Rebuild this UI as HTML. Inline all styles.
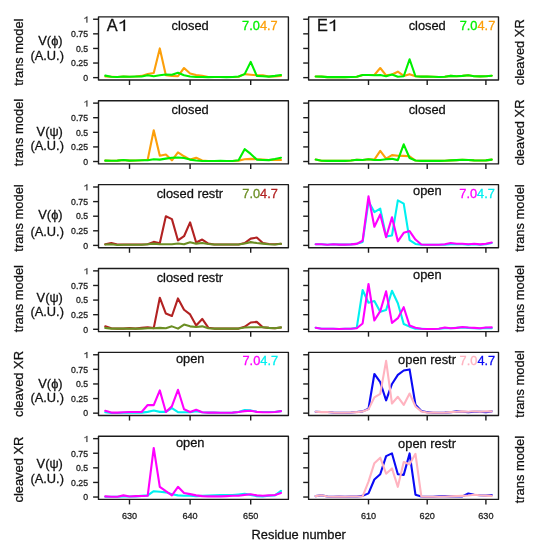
<!DOCTYPE html>
<html><head><meta charset="utf-8"><title>V(phi) V(psi) plots</title>
<style>
html,body{margin:0;padding:0;background:#fff;}
body{width:538px;height:550px;overflow:hidden;}
svg{display:block;font-family:"Liberation Sans", sans-serif;will-change:transform;}
text{stroke-width:0.28px;}
</style></head><body>
<svg width="538" height="550" viewBox="0 0 538 550">
<rect x="0" y="0" width="538" height="550" fill="#fff"/>
<polyline points="105.26,76.47 111.32,76.76 117.38,76.94 123.44,76.47 129.5,76.76 135.56,76.47 141.62,75.89 147.68,74.02 153.74,73.08 159.8,48.44 165.86,75.3 171.92,75.89 177.98,76.18 184.04,68 190.1,73.55 196.16,75.01 202.22,75.89 208.28,76.94 214.34,77.06 220.4,77.06 226.46,77.06 232.52,77.06 238.58,76.76 244.64,74.14 250.7,74.72 256.76,75.3 262.82,75.3 268.88,76.47 274.94,76.47 281,75.89" fill="none" stroke="#FC9F0A" stroke-width="2.1" stroke-linejoin="round" stroke-linecap="round"/>
<polyline points="105.26,75.6 111.32,76.76 117.38,76.94 123.44,76.47 129.5,76.76 135.56,76.47 141.62,76.47 147.68,75.3 153.74,76.18 159.8,75.3 165.86,74.43 171.92,74.72 177.98,72.68 184.04,75.3 190.1,76.47 196.16,76.94 202.22,77.06 208.28,77.17 214.34,77.06 220.4,77.06 226.46,77.17 232.52,77.06 238.58,76.47 244.64,74.14 250.7,61.87 256.76,75.89 262.82,76.18 268.88,76.59 274.94,75.89 281,75.01" fill="none" stroke="#00F000" stroke-width="2.1" stroke-linejoin="round" stroke-linecap="round"/>
<rect x="98.5" y="16.9" width="189.9" height="63.1" fill="none" stroke="#1c1c1c" stroke-width="1.4" stroke-linejoin="round"/>
<line x1="93.1" y1="77.64" x2="98.5" y2="77.64" stroke="#1c1c1c" stroke-width="1.4"/>
<line x1="93.1" y1="63.04" x2="98.5" y2="63.04" stroke="#1c1c1c" stroke-width="1.4"/>
<line x1="93.1" y1="48.44" x2="98.5" y2="48.44" stroke="#1c1c1c" stroke-width="1.4"/>
<line x1="93.1" y1="33.84" x2="98.5" y2="33.84" stroke="#1c1c1c" stroke-width="1.4"/>
<line x1="93.1" y1="19.24" x2="98.5" y2="19.24" stroke="#1c1c1c" stroke-width="1.4"/>
<line x1="129.5" y1="80" x2="129.5" y2="85" stroke="#1c1c1c" stroke-width="1.4"/>
<line x1="190.1" y1="80" x2="190.1" y2="85" stroke="#1c1c1c" stroke-width="1.4"/>
<line x1="250.7" y1="80" x2="250.7" y2="85" stroke="#1c1c1c" stroke-width="1.4"/>
<text x="171.6" y="29.5" font-size="12.85" fill="#111" stroke="#111">closed</text>
<text x="242.1" y="29.5" font-size="12.8"><tspan fill="#00F000" stroke="#00F000">7.0</tspan><tspan fill="#FC9F0A" stroke="#FC9F0A">4.7</tspan></text>
<text x="88.0" y="80.93" font-size="8.7" text-anchor="end" fill="#222" stroke="#222">0</text>
<text x="88.0" y="66.33" font-size="8.7" text-anchor="end" fill="#222" stroke="#222">0.25</text>
<text x="88.0" y="51.73" font-size="8.7" text-anchor="end" fill="#222" stroke="#222">0.5</text>
<text x="88.0" y="37.13" font-size="8.7" text-anchor="end" fill="#222" stroke="#222">0.75</text>
<path d="M0.354,0 L0.444,0 L0.444,-0.688 L0.384,-0.688 C0.355,-0.625 0.27,-0.56 0.12,-0.52 L0.12,-0.44 C0.22,-0.465 0.31,-0.51 0.354,-0.555 Z" transform="translate(83.44,22.53) scale(8.7)" fill="#222" stroke="#222" stroke-width="0.03"/>
<polyline points="315.67,76.47 321.54,76.65 327.41,77.17 333.28,77 339.15,77.17 345.02,77.17 350.89,77 356.76,76.82 362.63,74.95 368.5,74.95 374.37,74.95 380.24,68 386.11,75.3 391.98,74.43 397.85,71.68 403.72,75.89 409.59,74.14 415.46,76.24 421.33,76.65 427.2,76.65 433.07,76.82 438.94,77 444.81,76.82 450.68,75.89 456.55,76.24 462.42,75.89 468.29,75.3 474.16,76.24 480.03,76.41 485.9,76.24 491.77,75.71" fill="none" stroke="#FC9F0A" stroke-width="2.1" stroke-linejoin="round" stroke-linecap="round"/>
<polyline points="315.67,76.47 321.54,76.65 327.41,77.17 333.28,77 339.15,77.17 345.02,77.17 350.89,77 356.76,76.82 362.63,74.95 368.5,74.95 374.37,75.3 380.24,74.95 386.11,76.24 391.98,74.43 397.85,76.82 403.72,76.24 409.59,59.24 415.46,76.24 421.33,76.65 427.2,76.65 433.07,76.82 438.94,77 444.81,76.82 450.68,75.89 456.55,76.24 462.42,75.89 468.29,75.3 474.16,76.24 480.03,76.41 485.9,76.24 491.77,75.71" fill="none" stroke="#00F000" stroke-width="2.1" stroke-linejoin="round" stroke-linecap="round"/>
<rect x="308.6" y="16.9" width="189.9" height="63.1" fill="none" stroke="#1c1c1c" stroke-width="1.4" stroke-linejoin="round"/>
<line x1="303.2" y1="77.64" x2="308.6" y2="77.64" stroke="#1c1c1c" stroke-width="1.4"/>
<line x1="303.2" y1="63.04" x2="308.6" y2="63.04" stroke="#1c1c1c" stroke-width="1.4"/>
<line x1="303.2" y1="48.44" x2="308.6" y2="48.44" stroke="#1c1c1c" stroke-width="1.4"/>
<line x1="303.2" y1="33.84" x2="308.6" y2="33.84" stroke="#1c1c1c" stroke-width="1.4"/>
<line x1="303.2" y1="19.24" x2="308.6" y2="19.24" stroke="#1c1c1c" stroke-width="1.4"/>
<line x1="368.5" y1="80" x2="368.5" y2="85" stroke="#1c1c1c" stroke-width="1.4"/>
<line x1="427.2" y1="80" x2="427.2" y2="85" stroke="#1c1c1c" stroke-width="1.4"/>
<line x1="485.9" y1="80" x2="485.9" y2="85" stroke="#1c1c1c" stroke-width="1.4"/>
<text x="408.65" y="29.5" font-size="12.85" fill="#111" stroke="#111">closed</text>
<text x="459.7" y="29.5" font-size="12.8"><tspan fill="#00F000" stroke="#00F000">7.0</tspan><tspan fill="#FC9F0A" stroke="#FC9F0A">4.7</tspan></text>
<text transform="translate(22.6,52.2) rotate(-90)" font-size="12.9" text-anchor="middle" fill="#111" stroke="#111">trans model</text>
<text transform="translate(524.4,52.2) rotate(-90)" font-size="12.9" text-anchor="middle" fill="#111" stroke="#111">cleaved XR</text>
<text x="38.3" y="44.85" font-size="12.85" fill="#111" stroke="#111">V(ϕ)</text>
<text x="30.4" y="59.8" font-size="12.85" fill="#111" stroke="#111">(A.U.)</text>
<polyline points="105.26,160.64 111.32,160.82 117.38,160.64 123.44,159.94 129.5,160.64 135.56,160.47 141.62,160.24 147.68,159.77 153.74,130.28 159.8,155.68 165.86,154.51 171.92,160.35 177.98,152.29 184.04,156.26 190.1,159.59 196.16,157.72 202.22,160.53 208.28,160.94 214.34,160.94 220.4,160.94 226.46,160.94 232.52,160.94 238.58,160.64 244.64,159.18 250.7,158.89 256.76,159.18 262.82,159.59 268.88,160.06 274.94,159.59 281,159.94" fill="none" stroke="#FC9F0A" stroke-width="2.1" stroke-linejoin="round" stroke-linecap="round"/>
<polyline points="105.26,160.64 111.32,160.82 117.38,160.64 123.44,159.94 129.5,160.64 135.56,160.47 141.62,160.24 147.68,160.24 153.74,159.18 159.8,159.59 165.86,158.6 171.92,157.72 177.98,157.43 184.04,158.02 190.1,159.59 196.16,160.53 202.22,160.94 208.28,160.94 214.34,160.94 220.4,160.76 226.46,160.94 232.52,160.94 238.58,160.18 244.64,149.14 250.7,153.93 256.76,159.59 262.82,159.94 268.88,160.12 274.94,159.01 281,157.72" fill="none" stroke="#00F000" stroke-width="2.1" stroke-linejoin="round" stroke-linecap="round"/>
<rect x="98.5" y="100.78" width="189.9" height="63.1" fill="none" stroke="#1c1c1c" stroke-width="1.4" stroke-linejoin="round"/>
<line x1="93.1" y1="161.52" x2="98.5" y2="161.52" stroke="#1c1c1c" stroke-width="1.4"/>
<line x1="93.1" y1="146.92" x2="98.5" y2="146.92" stroke="#1c1c1c" stroke-width="1.4"/>
<line x1="93.1" y1="132.32" x2="98.5" y2="132.32" stroke="#1c1c1c" stroke-width="1.4"/>
<line x1="93.1" y1="117.72" x2="98.5" y2="117.72" stroke="#1c1c1c" stroke-width="1.4"/>
<line x1="93.1" y1="103.12" x2="98.5" y2="103.12" stroke="#1c1c1c" stroke-width="1.4"/>
<line x1="129.5" y1="163.88" x2="129.5" y2="168.88" stroke="#1c1c1c" stroke-width="1.4"/>
<line x1="190.1" y1="163.88" x2="190.1" y2="168.88" stroke="#1c1c1c" stroke-width="1.4"/>
<line x1="250.7" y1="163.88" x2="250.7" y2="168.88" stroke="#1c1c1c" stroke-width="1.4"/>
<text x="171.6" y="114.18" font-size="12.85" fill="#111" stroke="#111">closed</text>
<text x="88.0" y="164.81" font-size="8.7" text-anchor="end" fill="#222" stroke="#222">0</text>
<text x="88.0" y="150.21" font-size="8.7" text-anchor="end" fill="#222" stroke="#222">0.25</text>
<text x="88.0" y="135.61" font-size="8.7" text-anchor="end" fill="#222" stroke="#222">0.5</text>
<text x="88.0" y="121.01" font-size="8.7" text-anchor="end" fill="#222" stroke="#222">0.75</text>
<path d="M0.354,0 L0.444,0 L0.444,-0.688 L0.384,-0.688 C0.355,-0.625 0.27,-0.56 0.12,-0.52 L0.12,-0.44 C0.22,-0.465 0.31,-0.51 0.354,-0.555 Z" transform="translate(83.44,106.41) scale(8.7)" fill="#222" stroke="#222" stroke-width="0.03"/>
<polyline points="315.67,159.59 321.54,160.7 327.41,160.88 333.28,160.7 339.15,160.88 345.02,160.88 350.89,160.53 356.76,159.77 362.63,159.94 368.5,159.18 374.37,159.59 380.24,150.95 386.11,158.6 391.98,155.1 397.85,155.68 403.72,155.86 409.59,156.26 415.46,160.53 421.33,160.88 427.2,160.88 433.07,160.88 438.94,160.88 444.81,160.7 450.68,160.35 456.55,160.12 462.42,159.77 468.29,159.94 474.16,160.35 480.03,160.53 485.9,160.35 491.77,159.59" fill="none" stroke="#FC9F0A" stroke-width="2.1" stroke-linejoin="round" stroke-linecap="round"/>
<polyline points="315.67,159.59 321.54,160.7 327.41,160.88 333.28,160.7 339.15,160.88 345.02,160.88 350.89,160.53 356.76,159.77 362.63,159.94 368.5,159.18 374.37,159.94 380.24,159.94 386.11,159.18 391.98,158.83 397.85,160.12 403.72,144.29 409.59,158.02 415.46,160.53 421.33,160.88 427.2,160.88 433.07,160.88 438.94,160.88 444.81,160.7 450.68,160.35 456.55,160.12 462.42,159.77 468.29,159.94 474.16,160.35 480.03,160.53 485.9,160.35 491.77,159.59" fill="none" stroke="#00F000" stroke-width="2.1" stroke-linejoin="round" stroke-linecap="round"/>
<rect x="308.6" y="100.78" width="189.9" height="63.1" fill="none" stroke="#1c1c1c" stroke-width="1.4" stroke-linejoin="round"/>
<line x1="303.2" y1="161.52" x2="308.6" y2="161.52" stroke="#1c1c1c" stroke-width="1.4"/>
<line x1="303.2" y1="146.92" x2="308.6" y2="146.92" stroke="#1c1c1c" stroke-width="1.4"/>
<line x1="303.2" y1="132.32" x2="308.6" y2="132.32" stroke="#1c1c1c" stroke-width="1.4"/>
<line x1="303.2" y1="117.72" x2="308.6" y2="117.72" stroke="#1c1c1c" stroke-width="1.4"/>
<line x1="303.2" y1="103.12" x2="308.6" y2="103.12" stroke="#1c1c1c" stroke-width="1.4"/>
<line x1="368.5" y1="163.88" x2="368.5" y2="168.88" stroke="#1c1c1c" stroke-width="1.4"/>
<line x1="427.2" y1="163.88" x2="427.2" y2="168.88" stroke="#1c1c1c" stroke-width="1.4"/>
<line x1="485.9" y1="163.88" x2="485.9" y2="168.88" stroke="#1c1c1c" stroke-width="1.4"/>
<text x="408.65" y="114.08" font-size="12.85" fill="#111" stroke="#111">closed</text>
<text transform="translate(22.6,132.5) rotate(-90)" font-size="12.9" text-anchor="middle" fill="#111" stroke="#111">trans model</text>
<text transform="translate(524.4,132.5) rotate(-90)" font-size="12.9" text-anchor="middle" fill="#111" stroke="#111">cleaved XR</text>
<text x="36.6" y="135.7" font-size="12.85" fill="#111" stroke="#111">V(ψ)</text>
<text x="30.4" y="150.4" font-size="12.85" fill="#111" stroke="#111">(A.U.)</text>
<polyline points="105.26,244.23 111.32,243.06 117.38,244.52 123.44,244.52 129.5,244.52 135.56,244.52 141.62,244.52 147.68,244.23 153.74,241.9 159.8,243.24 165.86,216.2 171.92,219.12 177.98,240.44 184.04,236.23 190.1,222.39 196.16,242.48 202.22,239.56 208.28,243.65 214.34,244.52 220.4,244.52 226.46,244.52 232.52,244.52 238.58,244.52 244.64,243.06 250.7,238.63 256.76,237.57 262.82,243.06 268.88,243.94 274.94,244.23 281,243.82" fill="none" stroke="#B22222" stroke-width="2.1" stroke-linejoin="round" stroke-linecap="round"/>
<polyline points="105.26,244.52 111.32,244.23 117.38,244.93 123.44,244.76 129.5,244.76 135.56,244.76 141.62,244.76 147.68,244.23 153.74,243.65 159.8,244.23 165.86,244.23 171.92,244.23 177.98,243.47 184.04,244.23 190.1,242.19 196.16,243.65 202.22,243.06 208.28,244 214.34,244.52 220.4,244.52 226.46,244.52 232.52,244.52 238.58,244.52 244.64,243.47 250.7,242.13 256.76,243.06 262.82,243.65 268.88,244.23 274.94,244.52 281,243.82" fill="none" stroke="#6B8E23" stroke-width="2.1" stroke-linejoin="round" stroke-linecap="round"/>
<rect x="98.5" y="184.66" width="189.9" height="63.1" fill="none" stroke="#1c1c1c" stroke-width="1.4" stroke-linejoin="round"/>
<line x1="93.1" y1="245.4" x2="98.5" y2="245.4" stroke="#1c1c1c" stroke-width="1.4"/>
<line x1="93.1" y1="230.8" x2="98.5" y2="230.8" stroke="#1c1c1c" stroke-width="1.4"/>
<line x1="93.1" y1="216.2" x2="98.5" y2="216.2" stroke="#1c1c1c" stroke-width="1.4"/>
<line x1="93.1" y1="201.6" x2="98.5" y2="201.6" stroke="#1c1c1c" stroke-width="1.4"/>
<line x1="93.1" y1="187" x2="98.5" y2="187" stroke="#1c1c1c" stroke-width="1.4"/>
<line x1="129.5" y1="247.76" x2="129.5" y2="252.76" stroke="#1c1c1c" stroke-width="1.4"/>
<line x1="190.1" y1="247.76" x2="190.1" y2="252.76" stroke="#1c1c1c" stroke-width="1.4"/>
<line x1="250.7" y1="247.76" x2="250.7" y2="252.76" stroke="#1c1c1c" stroke-width="1.4"/>
<text x="156.7" y="198.16" font-size="12.85" fill="#111" stroke="#111">closed restr</text>
<text x="242.3" y="197.86" font-size="12.8"><tspan fill="#6B8E23" stroke="#6B8E23">7.0</tspan><tspan fill="#B22222" stroke="#B22222">4.7</tspan></text>
<text x="88.0" y="248.69" font-size="8.7" text-anchor="end" fill="#222" stroke="#222">0</text>
<text x="88.0" y="234.09" font-size="8.7" text-anchor="end" fill="#222" stroke="#222">0.25</text>
<text x="88.0" y="219.49" font-size="8.7" text-anchor="end" fill="#222" stroke="#222">0.5</text>
<text x="88.0" y="204.89" font-size="8.7" text-anchor="end" fill="#222" stroke="#222">0.75</text>
<path d="M0.354,0 L0.444,0 L0.444,-0.688 L0.384,-0.688 C0.355,-0.625 0.27,-0.56 0.12,-0.52 L0.12,-0.44 C0.22,-0.465 0.31,-0.51 0.354,-0.555 Z" transform="translate(83.44,190.29) scale(8.7)" fill="#222" stroke="#222" stroke-width="0.03"/>
<polyline points="315.67,244.23 321.54,244.23 327.41,244.7 333.28,244.23 339.15,244.58 345.02,244.58 350.89,244.41 356.76,243.88 362.63,241.9 368.5,201.6 374.37,212.11 380.24,208.61 386.11,236.35 391.98,235.47 397.85,200.43 403.72,203.64 409.59,240.14 415.46,243.94 421.33,244.82 427.2,244.82 433.07,244.82 438.94,244.82 444.81,244.82 450.68,244.23 456.55,244.23 462.42,244.23 468.29,244.58 474.16,244.23 480.03,244.82 485.9,244.23 491.77,243.06" fill="none" stroke="#00F0F0" stroke-width="2.1" stroke-linejoin="round" stroke-linecap="round"/>
<polyline points="315.67,244.23 321.54,244.23 327.41,244.7 333.28,244.23 339.15,244.58 345.02,244.58 350.89,244.41 356.76,243.88 362.63,240.73 368.5,196.34 374.37,226.71 380.24,214.45 386.11,237.22 391.98,217.37 397.85,241.31 403.72,232.84 409.59,231.09 415.46,239.56 421.33,244.52 427.2,244.7 433.07,244.7 438.94,244.7 444.81,244.23 450.68,243.06 456.55,243.82 462.42,243.82 468.29,244.23 474.16,243.82 480.03,244.41 485.9,243.82 491.77,242.48" fill="none" stroke="#FF00FF" stroke-width="2.1" stroke-linejoin="round" stroke-linecap="round"/>
<rect x="308.6" y="184.66" width="189.9" height="63.1" fill="none" stroke="#1c1c1c" stroke-width="1.4" stroke-linejoin="round"/>
<line x1="303.2" y1="245.4" x2="308.6" y2="245.4" stroke="#1c1c1c" stroke-width="1.4"/>
<line x1="303.2" y1="230.8" x2="308.6" y2="230.8" stroke="#1c1c1c" stroke-width="1.4"/>
<line x1="303.2" y1="216.2" x2="308.6" y2="216.2" stroke="#1c1c1c" stroke-width="1.4"/>
<line x1="303.2" y1="201.6" x2="308.6" y2="201.6" stroke="#1c1c1c" stroke-width="1.4"/>
<line x1="303.2" y1="187" x2="308.6" y2="187" stroke="#1c1c1c" stroke-width="1.4"/>
<line x1="368.5" y1="247.76" x2="368.5" y2="252.76" stroke="#1c1c1c" stroke-width="1.4"/>
<line x1="427.2" y1="247.76" x2="427.2" y2="252.76" stroke="#1c1c1c" stroke-width="1.4"/>
<line x1="485.9" y1="247.76" x2="485.9" y2="252.76" stroke="#1c1c1c" stroke-width="1.4"/>
<text x="413.05" y="195.16" font-size="12.85" fill="#111" stroke="#111">open</text>
<text x="459.3" y="197.86" font-size="12.8"><tspan fill="#FF00FF" stroke="#FF00FF">7.0</tspan><tspan fill="#00F0F0" stroke="#00F0F0">4.7</tspan></text>
<text transform="translate(22.6,218) rotate(-90)" font-size="12.9" text-anchor="middle" fill="#111" stroke="#111">trans model</text>
<text transform="translate(524.4,218) rotate(-90)" font-size="12.9" text-anchor="middle" fill="#111" stroke="#111">trans model</text>
<text x="38.3" y="218.7" font-size="12.85" fill="#111" stroke="#111">V(ϕ)</text>
<text x="30.4" y="236.45" font-size="12.85" fill="#111" stroke="#111">(A.U.)</text>
<polyline points="105.26,326.36 111.32,328.29 117.38,328.64 123.44,328.64 129.5,328.11 135.56,328.64 141.62,327.88 147.68,327.18 153.74,328.11 159.8,297.74 165.86,313.51 171.92,316.02 177.98,298.44 184.04,309.72 190.1,314.39 196.16,325.48 202.22,318.94 208.28,327.7 214.34,328.58 220.4,328.58 226.46,328.58 232.52,328.58 238.58,328.58 244.64,326.77 250.7,322.51 256.76,321.86 262.82,327.18 268.88,327.88 274.94,328.29 281,327.53" fill="none" stroke="#B22222" stroke-width="2.1" stroke-linejoin="round" stroke-linecap="round"/>
<polyline points="105.26,327.88 111.32,328.64 117.38,328.64 123.44,328.64 129.5,328.64 135.56,328.64 141.62,328.64 147.68,328.29 153.74,328.29 159.8,327.88 165.86,328.29 171.92,326.36 177.98,328.64 184.04,324.61 190.1,326.36 196.16,326.94 202.22,326.36 208.28,328.29 214.34,328.58 220.4,328.58 226.46,328.58 232.52,328.58 238.58,328.58 244.64,327.53 250.7,327.18 256.76,327.18 262.82,327.18 268.88,327.88 274.94,328.29 281,327.35" fill="none" stroke="#6B8E23" stroke-width="2.1" stroke-linejoin="round" stroke-linecap="round"/>
<rect x="98.5" y="268.54" width="189.9" height="63.1" fill="none" stroke="#1c1c1c" stroke-width="1.4" stroke-linejoin="round"/>
<line x1="93.1" y1="329.28" x2="98.5" y2="329.28" stroke="#1c1c1c" stroke-width="1.4"/>
<line x1="93.1" y1="314.68" x2="98.5" y2="314.68" stroke="#1c1c1c" stroke-width="1.4"/>
<line x1="93.1" y1="300.08" x2="98.5" y2="300.08" stroke="#1c1c1c" stroke-width="1.4"/>
<line x1="93.1" y1="285.48" x2="98.5" y2="285.48" stroke="#1c1c1c" stroke-width="1.4"/>
<line x1="93.1" y1="270.88" x2="98.5" y2="270.88" stroke="#1c1c1c" stroke-width="1.4"/>
<line x1="129.5" y1="331.64" x2="129.5" y2="336.64" stroke="#1c1c1c" stroke-width="1.4"/>
<line x1="190.1" y1="331.64" x2="190.1" y2="336.64" stroke="#1c1c1c" stroke-width="1.4"/>
<line x1="250.7" y1="331.64" x2="250.7" y2="336.64" stroke="#1c1c1c" stroke-width="1.4"/>
<text x="156.7" y="281.89" font-size="12.85" fill="#111" stroke="#111">closed restr</text>
<text x="88.0" y="332.57" font-size="8.7" text-anchor="end" fill="#222" stroke="#222">0</text>
<text x="88.0" y="317.97" font-size="8.7" text-anchor="end" fill="#222" stroke="#222">0.25</text>
<text x="88.0" y="303.37" font-size="8.7" text-anchor="end" fill="#222" stroke="#222">0.5</text>
<text x="88.0" y="288.77" font-size="8.7" text-anchor="end" fill="#222" stroke="#222">0.75</text>
<path d="M0.354,0 L0.444,0 L0.444,-0.688 L0.384,-0.688 C0.355,-0.625 0.27,-0.56 0.12,-0.52 L0.12,-0.44 C0.22,-0.465 0.31,-0.51 0.354,-0.555 Z" transform="translate(83.44,274.17) scale(8.7)" fill="#222" stroke="#222" stroke-width="0.03"/>
<polyline points="315.67,327.7 321.54,328.7 327.41,328.7 333.28,328.81 339.15,328.93 345.02,328.81 350.89,328.7 356.76,327.7 362.63,289.98 368.5,302.71 374.37,301.07 380.24,311.76 386.11,310.01 391.98,290.74 397.85,303.29 403.72,324.02 409.59,326.65 415.46,328.7 421.33,328.81 427.2,328.93 433.07,328.93 438.94,328.81 444.81,328.11 450.68,328.29 456.55,327.88 462.42,327.53 468.29,327.88 474.16,328.29 480.03,328.46 485.9,327.88 491.77,328.29" fill="none" stroke="#00F0F0" stroke-width="2.1" stroke-linejoin="round" stroke-linecap="round"/>
<polyline points="315.67,327.7 321.54,328.7 327.41,328.7 333.28,328.81 339.15,328.93 345.02,328.81 350.89,328.7 356.76,328.23 362.63,323.44 368.5,284.02 374.37,320.52 380.24,311.18 386.11,291.32 391.98,322.86 397.85,318.18 403.72,307.2 409.59,325.6 415.46,327.82 421.33,328.81 427.2,328.93 433.07,328.93 438.94,328.81 444.81,327.53 450.68,328.29 456.55,327.88 462.42,326.94 468.29,327.53 474.16,327.88 480.03,328.29 485.9,327.53 491.77,327.35" fill="none" stroke="#FF00FF" stroke-width="2.1" stroke-linejoin="round" stroke-linecap="round"/>
<rect x="308.6" y="268.54" width="189.9" height="63.1" fill="none" stroke="#1c1c1c" stroke-width="1.4" stroke-linejoin="round"/>
<line x1="303.2" y1="329.28" x2="308.6" y2="329.28" stroke="#1c1c1c" stroke-width="1.4"/>
<line x1="303.2" y1="314.68" x2="308.6" y2="314.68" stroke="#1c1c1c" stroke-width="1.4"/>
<line x1="303.2" y1="300.08" x2="308.6" y2="300.08" stroke="#1c1c1c" stroke-width="1.4"/>
<line x1="303.2" y1="285.48" x2="308.6" y2="285.48" stroke="#1c1c1c" stroke-width="1.4"/>
<line x1="303.2" y1="270.88" x2="308.6" y2="270.88" stroke="#1c1c1c" stroke-width="1.4"/>
<line x1="368.5" y1="331.64" x2="368.5" y2="336.64" stroke="#1c1c1c" stroke-width="1.4"/>
<line x1="427.2" y1="331.64" x2="427.2" y2="336.64" stroke="#1c1c1c" stroke-width="1.4"/>
<line x1="485.9" y1="331.64" x2="485.9" y2="336.64" stroke="#1c1c1c" stroke-width="1.4"/>
<text x="413" y="279.04" font-size="12.85" fill="#111" stroke="#111">open</text>
<text transform="translate(22.6,298.7) rotate(-90)" font-size="12.9" text-anchor="middle" fill="#111" stroke="#111">trans model</text>
<text transform="translate(524.4,298.7) rotate(-90)" font-size="12.9" text-anchor="middle" fill="#111" stroke="#111">trans model</text>
<text x="36.6" y="301.7" font-size="12.85" fill="#111" stroke="#111">V(ψ)</text>
<text x="30.4" y="316.4" font-size="12.85" fill="#111" stroke="#111">(A.U.)</text>
<polyline points="105.26,412.28 111.32,412.98 117.38,412.98 123.44,412.81 129.5,412.63 135.56,412.63 141.62,412.63 147.68,411.88 153.74,410.53 159.8,411.88 165.86,411.88 171.92,408.08 177.98,412.23 184.04,412.23 190.1,412.23 196.16,411.12 202.22,412.23 208.28,412.58 214.34,412.58 220.4,412.69 226.46,412.69 232.52,412.58 238.58,411.99 244.64,410.01 250.7,410.42 256.76,411.7 262.82,411.99 268.88,411.99 274.94,411.99 281,411.12" fill="none" stroke="#00F0F0" stroke-width="2.1" stroke-linejoin="round" stroke-linecap="round"/>
<polyline points="105.26,410.82 111.32,412.58 117.38,412.58 123.44,412.23 129.5,412.05 135.56,412.05 141.62,412.05 147.68,404.98 153.74,405.16 159.8,390.38 165.86,411.99 171.92,406.15 177.98,389.8 184.04,409.25 190.1,411.99 196.16,409.83 202.22,412.23 208.28,412.63 214.34,412.63 220.4,412.81 226.46,412.81 232.52,412.63 238.58,412.05 244.64,411.12 250.7,410.77 256.76,411.88 262.82,412.23 268.88,412.23 274.94,412.05 281,411.12" fill="none" stroke="#FF00FF" stroke-width="2.1" stroke-linejoin="round" stroke-linecap="round"/>
<rect x="98.5" y="352.42" width="189.9" height="63.1" fill="none" stroke="#1c1c1c" stroke-width="1.4" stroke-linejoin="round"/>
<line x1="93.1" y1="413.16" x2="98.5" y2="413.16" stroke="#1c1c1c" stroke-width="1.4"/>
<line x1="93.1" y1="398.56" x2="98.5" y2="398.56" stroke="#1c1c1c" stroke-width="1.4"/>
<line x1="93.1" y1="383.96" x2="98.5" y2="383.96" stroke="#1c1c1c" stroke-width="1.4"/>
<line x1="93.1" y1="369.36" x2="98.5" y2="369.36" stroke="#1c1c1c" stroke-width="1.4"/>
<line x1="93.1" y1="354.76" x2="98.5" y2="354.76" stroke="#1c1c1c" stroke-width="1.4"/>
<line x1="129.5" y1="415.52" x2="129.5" y2="420.52" stroke="#1c1c1c" stroke-width="1.4"/>
<line x1="190.1" y1="415.52" x2="190.1" y2="420.52" stroke="#1c1c1c" stroke-width="1.4"/>
<line x1="250.7" y1="415.52" x2="250.7" y2="420.52" stroke="#1c1c1c" stroke-width="1.4"/>
<text x="175.9" y="363.02" font-size="12.85" fill="#111" stroke="#111">open</text>
<text x="242.5" y="364.82" font-size="12.8"><tspan fill="#FF00FF" stroke="#FF00FF">7.0</tspan><tspan fill="#00F0F0" stroke="#00F0F0">4.7</tspan></text>
<text x="88.0" y="416.45" font-size="8.7" text-anchor="end" fill="#222" stroke="#222">0</text>
<text x="88.0" y="401.85" font-size="8.7" text-anchor="end" fill="#222" stroke="#222">0.25</text>
<text x="88.0" y="387.25" font-size="8.7" text-anchor="end" fill="#222" stroke="#222">0.5</text>
<text x="88.0" y="372.65" font-size="8.7" text-anchor="end" fill="#222" stroke="#222">0.75</text>
<path d="M0.354,0 L0.444,0 L0.444,-0.688 L0.384,-0.688 C0.355,-0.625 0.27,-0.56 0.12,-0.52 L0.12,-0.44 C0.22,-0.465 0.31,-0.51 0.354,-0.555 Z" transform="translate(83.44,358.05) scale(8.7)" fill="#222" stroke="#222" stroke-width="0.03"/>
<polyline points="315.67,411.7 321.54,411.99 327.41,411.99 333.28,412.58 339.15,412.69 345.02,412.69 350.89,412.46 356.76,411.99 362.63,411.41 368.5,408.72 374.37,373.97 380.24,382.21 386.11,400.31 391.98,383.96 397.85,374.91 403.72,370.53 409.59,369.42 415.46,404.75 421.33,411 427.2,412.17 433.07,412.69 438.94,412.69 444.81,412.58 450.68,412.28 456.55,411.41 462.42,411.76 468.29,412.17 474.16,411.76 480.03,411.76 485.9,412.17 491.77,411.41" fill="none" stroke="#0A0AF5" stroke-width="2.1" stroke-linejoin="round" stroke-linecap="round"/>
<polyline points="315.67,411.7 321.54,412.17 327.41,411.99 333.28,412.58 339.15,412.69 345.02,412.69 350.89,412.46 356.76,412.17 362.63,411.41 368.5,409.36 374.37,397.39 380.24,393.89 386.11,360.89 391.98,403.52 397.85,396.81 403.72,404.98 409.59,393.48 415.46,406.44 421.33,411.41 427.2,412.58 433.07,412.58 438.94,412.69 444.81,412.69 450.68,412.17 456.55,411.76 462.42,411.41 468.29,411.76 474.16,411.23 480.03,411.76 485.9,411.41 491.77,411.41" fill="none" stroke="#FFB3C0" stroke-width="2.1" stroke-linejoin="round" stroke-linecap="round"/>
<rect x="308.6" y="352.42" width="189.9" height="63.1" fill="none" stroke="#1c1c1c" stroke-width="1.4" stroke-linejoin="round"/>
<line x1="303.2" y1="413.16" x2="308.6" y2="413.16" stroke="#1c1c1c" stroke-width="1.4"/>
<line x1="303.2" y1="398.56" x2="308.6" y2="398.56" stroke="#1c1c1c" stroke-width="1.4"/>
<line x1="303.2" y1="383.96" x2="308.6" y2="383.96" stroke="#1c1c1c" stroke-width="1.4"/>
<line x1="303.2" y1="369.36" x2="308.6" y2="369.36" stroke="#1c1c1c" stroke-width="1.4"/>
<line x1="303.2" y1="354.76" x2="308.6" y2="354.76" stroke="#1c1c1c" stroke-width="1.4"/>
<line x1="368.5" y1="415.52" x2="368.5" y2="420.52" stroke="#1c1c1c" stroke-width="1.4"/>
<line x1="427.2" y1="415.52" x2="427.2" y2="420.52" stroke="#1c1c1c" stroke-width="1.4"/>
<line x1="485.9" y1="415.52" x2="485.9" y2="420.52" stroke="#1c1c1c" stroke-width="1.4"/>
<text x="398.1" y="364.42" font-size="12.85" fill="#111" stroke="#111">open restr</text>
<text x="459.6" y="364.92" font-size="12.8"><tspan fill="#FFB3C0" stroke="#FFB3C0">7.0</tspan><tspan fill="#0A0AF5" stroke="#0A0AF5">4.7</tspan></text>
<text transform="translate(22.6,384) rotate(-90)" font-size="12.9" text-anchor="middle" fill="#111" stroke="#111">cleaved XR</text>
<text transform="translate(524.4,384) rotate(-90)" font-size="12.9" text-anchor="middle" fill="#111" stroke="#111">trans model</text>
<text x="38.3" y="387.7" font-size="12.85" fill="#111" stroke="#111">V(ϕ)</text>
<text x="30.4" y="402.4" font-size="12.85" fill="#111" stroke="#111">(A.U.)</text>
<polyline points="105.26,496.69 111.32,496.75 117.38,496.75 123.44,496.46 129.5,496.46 135.56,496.34 141.62,495.87 147.68,495.4 153.74,491.2 159.8,491.78 165.86,492.37 171.92,494.3 177.98,495.4 184.04,495.76 190.1,495.76 196.16,496.11 202.22,495.87 208.28,495.58 214.34,495.29 220.4,495 226.46,495 232.52,495.11 238.58,494.47 244.64,493.89 250.7,494.88 256.76,496.11 262.82,496.34 268.88,495.76 274.94,495.4 281,490.91" fill="none" stroke="#00F0F0" stroke-width="2.1" stroke-linejoin="round" stroke-linecap="round"/>
<polyline points="105.26,496.34 111.32,496.69 117.38,496.69 123.44,495.4 129.5,496.51 135.56,496.11 141.62,495.93 147.68,495.76 153.74,447.98 159.8,486.82 165.86,491.2 171.92,495.29 177.98,486.82 184.04,492.95 190.1,494.12 196.16,495.4 202.22,496.11 208.28,496.34 214.34,496.34 220.4,496.34 226.46,496.11 232.52,495.76 238.58,495.76 244.64,494.88 250.7,494.3 256.76,495.4 262.82,495.76 268.88,495.4 274.94,495 281,492.95" fill="none" stroke="#FF00FF" stroke-width="2.1" stroke-linejoin="round" stroke-linecap="round"/>
<rect x="98.5" y="436.3" width="189.9" height="63.1" fill="none" stroke="#1c1c1c" stroke-width="1.4" stroke-linejoin="round"/>
<line x1="93.1" y1="497.04" x2="98.5" y2="497.04" stroke="#1c1c1c" stroke-width="1.4"/>
<line x1="93.1" y1="482.44" x2="98.5" y2="482.44" stroke="#1c1c1c" stroke-width="1.4"/>
<line x1="93.1" y1="467.84" x2="98.5" y2="467.84" stroke="#1c1c1c" stroke-width="1.4"/>
<line x1="93.1" y1="453.24" x2="98.5" y2="453.24" stroke="#1c1c1c" stroke-width="1.4"/>
<line x1="93.1" y1="438.64" x2="98.5" y2="438.64" stroke="#1c1c1c" stroke-width="1.4"/>
<line x1="129.5" y1="499.4" x2="129.5" y2="504.4" stroke="#1c1c1c" stroke-width="1.4"/>
<line x1="190.1" y1="499.4" x2="190.1" y2="504.4" stroke="#1c1c1c" stroke-width="1.4"/>
<line x1="250.7" y1="499.4" x2="250.7" y2="504.4" stroke="#1c1c1c" stroke-width="1.4"/>
<text x="175.9" y="446.8" font-size="12.85" fill="#111" stroke="#111">open</text>
<text x="88.0" y="500.33" font-size="8.7" text-anchor="end" fill="#222" stroke="#222">0</text>
<text x="88.0" y="485.73" font-size="8.7" text-anchor="end" fill="#222" stroke="#222">0.25</text>
<text x="88.0" y="471.13" font-size="8.7" text-anchor="end" fill="#222" stroke="#222">0.5</text>
<text x="88.0" y="456.53" font-size="8.7" text-anchor="end" fill="#222" stroke="#222">0.75</text>
<path d="M0.354,0 L0.444,0 L0.444,-0.688 L0.384,-0.688 C0.355,-0.625 0.27,-0.56 0.12,-0.52 L0.12,-0.44 C0.22,-0.465 0.31,-0.51 0.354,-0.555 Z" transform="translate(83.44,441.93) scale(8.7)" fill="#222" stroke="#222" stroke-width="0.03"/>
<polyline points="315.67,496.16 321.54,495.29 327.41,496.57 333.28,496.81 339.15,496.57 345.02,496.81 350.89,496.57 356.76,496.46 362.63,495.87 368.5,493.36 374.37,479.52 380.24,474.26 386.11,456.16 391.98,453.42 397.85,474.26 403.72,474.85 409.59,453.42 415.46,494.7 421.33,496.46 427.2,496.81 433.07,496.81 438.94,496.22 444.81,496.11 450.68,496.34 456.55,496.57 462.42,496.34 468.29,493.54 474.16,494.7 480.03,495.29 485.9,495.46 491.77,495" fill="none" stroke="#0A0AF5" stroke-width="2.1" stroke-linejoin="round" stroke-linecap="round"/>
<polyline points="315.67,496.16 321.54,495.29 327.41,496.57 333.28,496.81 339.15,496.57 345.02,496.81 350.89,496.57 356.76,496.46 362.63,496.28 368.5,481.56 374.37,463.17 380.24,457.68 386.11,473.68 391.98,468.42 397.85,486.82 403.72,462 409.59,464.34 415.46,453.82 421.33,496.46 427.2,496.81 433.07,496.81 438.94,496.69 444.81,496.57 450.68,496.34 456.55,496.16 462.42,495.87 468.29,495.46 474.16,494.7 480.03,495.29 485.9,495.64 491.77,495.87" fill="none" stroke="#FFB3C0" stroke-width="2.1" stroke-linejoin="round" stroke-linecap="round"/>
<rect x="308.6" y="436.3" width="189.9" height="63.1" fill="none" stroke="#1c1c1c" stroke-width="1.4" stroke-linejoin="round"/>
<line x1="303.2" y1="497.04" x2="308.6" y2="497.04" stroke="#1c1c1c" stroke-width="1.4"/>
<line x1="303.2" y1="482.44" x2="308.6" y2="482.44" stroke="#1c1c1c" stroke-width="1.4"/>
<line x1="303.2" y1="467.84" x2="308.6" y2="467.84" stroke="#1c1c1c" stroke-width="1.4"/>
<line x1="303.2" y1="453.24" x2="308.6" y2="453.24" stroke="#1c1c1c" stroke-width="1.4"/>
<line x1="303.2" y1="438.64" x2="308.6" y2="438.64" stroke="#1c1c1c" stroke-width="1.4"/>
<line x1="368.5" y1="499.4" x2="368.5" y2="504.4" stroke="#1c1c1c" stroke-width="1.4"/>
<line x1="427.2" y1="499.4" x2="427.2" y2="504.4" stroke="#1c1c1c" stroke-width="1.4"/>
<line x1="485.9" y1="499.4" x2="485.9" y2="504.4" stroke="#1c1c1c" stroke-width="1.4"/>
<text x="398.1" y="448.1" font-size="12.85" fill="#111" stroke="#111">open restr</text>
<text transform="translate(22.6,469.6) rotate(-90)" font-size="12.9" text-anchor="middle" fill="#111" stroke="#111">cleaved XR</text>
<text transform="translate(524.4,469.6) rotate(-90)" font-size="12.9" text-anchor="middle" fill="#111" stroke="#111">trans model</text>
<text x="36.6" y="468.05" font-size="12.85" fill="#111" stroke="#111">V(ψ)</text>
<text x="30.4" y="482.8" font-size="12.85" fill="#111" stroke="#111">(A.U.)</text>
<text x="106.87" y="31.0" font-size="16.3" fill="#111" stroke="#111">A</text>
<path d="M0.354,0 L0.444,0 L0.444,-0.688 L0.384,-0.688 C0.355,-0.625 0.27,-0.56 0.12,-0.52 L0.12,-0.44 C0.22,-0.465 0.31,-0.51 0.354,-0.555 Z" transform="translate(117.77,31) scale(16.3)" fill="#111" stroke="#111" stroke-width="0.02"/>
<text x="316.96" y="31.0" font-size="16.3" fill="#111" stroke="#111">E</text>
<path d="M0.354,0 L0.444,0 L0.444,-0.688 L0.384,-0.688 C0.355,-0.625 0.27,-0.56 0.12,-0.52 L0.12,-0.44 C0.22,-0.465 0.31,-0.51 0.354,-0.555 Z" transform="translate(327.83,31) scale(16.3)" fill="#111" stroke="#111" stroke-width="0.02"/>
<text x="129.5" y="518.6" font-size="9.1" text-anchor="middle" fill="#222" stroke="#222">630</text>
<text x="190.1" y="518.6" font-size="9.1" text-anchor="middle" fill="#222" stroke="#222">640</text>
<text x="250.7" y="518.6" font-size="9.1" text-anchor="middle" fill="#222" stroke="#222">650</text>
<text x="368.5" y="518.6" font-size="9.1" text-anchor="middle" fill="#222" stroke="#222">610</text>
<text x="427.2" y="518.6" font-size="9.1" text-anchor="middle" fill="#222" stroke="#222">620</text>
<text x="485.9" y="518.6" font-size="9.1" text-anchor="middle" fill="#222" stroke="#222">630</text>
<text x="298.7" y="538.7" font-size="12.85" text-anchor="middle" fill="#111" stroke="#111">Residue number</text>
</svg>
</body></html>
